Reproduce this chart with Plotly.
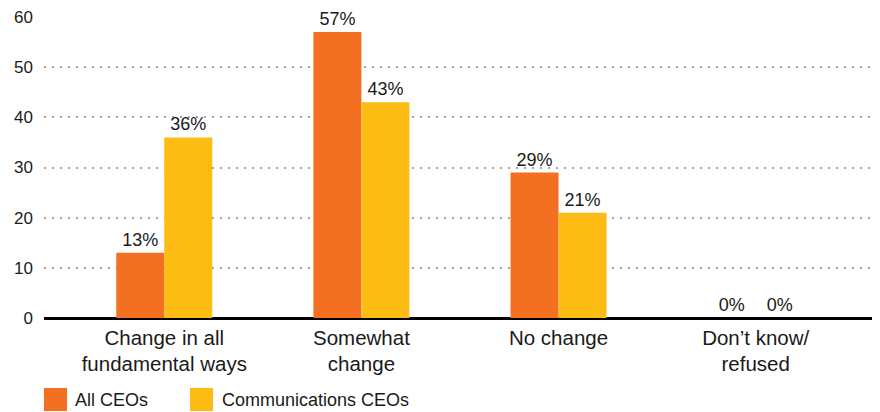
import plotly.graph_objects as go

categories = ["Change in all<br>fundamental ways", "Somewhat<br>change", "No change", "Don’t know/<br>refused"]
all_ceos = [13, 57, 29, 0]
comm_ceos = [36, 43, 21, 0]
series_names = ["All CEOs", "Communications CEOs"]
y_ticks = [0, 10, 20, 30, 40, 50, 60]

ORANGE = "#F37022"
YELLOW = "#FDBC13"
FONT = "Liberation Sans, Arial, sans-serif"
TEXT = "#1a1a1a"

fig = go.Figure()
for name, vals, col in [(series_names[0], all_ceos, ORANGE), (series_names[1], comm_ceos, YELLOW)]:
    fig.add_trace(go.Bar(
        x=categories, y=vals, name=name, marker=dict(color=col, line=dict(width=0)),
        text=[f"{v}%" for v in vals], textposition="outside", cliponaxis=False,
        textfont=dict(family=FONT, size=18, color=TEXT), showlegend=False,
    ))

fig.update_layout(
    width=880, height=412,
    margin=dict(l=44, r=8, t=17, b=94),
    paper_bgcolor="white", plot_bgcolor="white",
    barmode="group", bargap=0.513, bargroupgap=0,
    font=dict(family=FONT, size=18, color=TEXT),
)
fig.update_xaxes(
    range=[-0.61, 3.59], showgrid=False, showline=False, ticks="",
    tickfont=dict(size=20.5, color=TEXT), zeroline=False, ticklabelstandoff=5,
)
fig.update_yaxes(
    range=[0, 60], tickvals=y_ticks, showgrid=True, gridcolor="#aaa198", griddash="2px,6px",
    gridwidth=2, zeroline=True, zerolinecolor="#000000", zerolinewidth=2.5,
    showline=False, ticks="", ticklabelstandoff=10, tickfont=dict(size=17, color=TEXT),
)

# legend swatches drawn below the axis
legend_items = [(0.0, 0.0350, ORANGE, series_names[0]), (0.1763, 0.2126, YELLOW, series_names[1])]
for x0, xt, col, label in legend_items:
    fig.add_shape(type="rect", xref="paper", yref="paper",
                  x0=x0, x1=x0 + 0.0278, y0=-0.2326, y1=-0.309,
                  fillcolor=col, line=dict(width=0))
    fig.add_annotation(xref="paper", yref="paper", x=xt, y=-0.271,
                       text=label, showarrow=False, xanchor="left", yanchor="middle",
                       font=dict(family=FONT, size=18, color=TEXT))

fig.write_html("out.html")
